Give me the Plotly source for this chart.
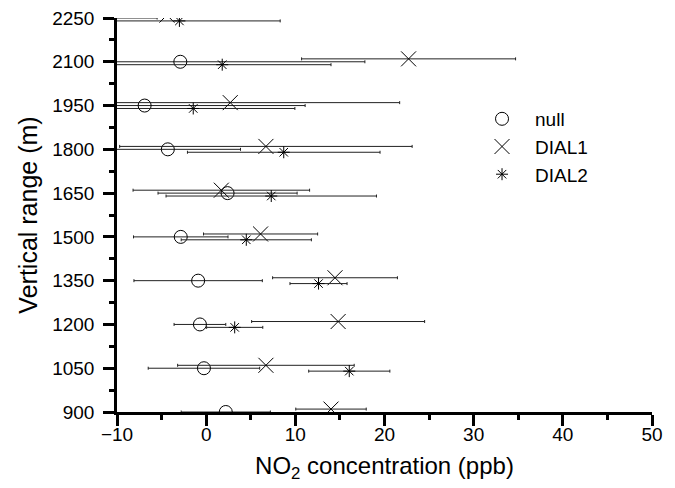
import plotly.graph_objects as go

# Vertical range levels (m)
heights = [900, 1050, 1200, 1350, 1500, 1650, 1800, 1950, 2100, 2250]

# NO2 concentration (ppb) and error (ppb) per series
null_x = [2.2, -0.25, -0.7, -0.9, -2.85, 2.4, -4.3, -6.9, -2.9, -12.0]
null_err = [5.0, 6.25, 2.9, 7.2, 5.3, 7.8, 8.15, 18.0, 20.7, 6.5]
dial1_x = [14.0, 6.7, 14.8, 14.45, 6.1, 1.7, 6.7, 2.7, 22.7, -4.4]
dial1_err = [3.95, 9.9, 9.7, 7.0, 6.4, 9.9, 16.4, 19.0, 12.0, 8.0]
dial2_x = [None, 16.05, 3.2, 12.6, 4.5, 7.3, 8.7, -1.45, 1.8, -3.0]
dial2_err = [None, 4.55, 3.15, 3.2, 7.3, 11.8, 10.8, 11.4, 12.2, 11.3]

# small vertical offsets of the series (m)
dial1_y = [h + 10 for h in heights]
dial2_y = [h - 10 for h in heights]

FONT = "Liberation Sans, Arial, sans-serif"

def err(vals):
    return dict(type="data", array=vals, visible=True, color="#222",
                thickness=1, width=1.5)

fig = go.Figure()
fig.add_trace(go.Scatter(
    x=null_x, y=heights, mode="markers", name="null",
    error_x=err(null_err),
    marker=dict(symbol="circle-open", size=13, color="black",
                line=dict(color="black", width=1))))
fig.add_trace(go.Scatter(
    x=dial1_x, y=dial1_y, mode="markers", name="DIAL1",
    error_x=err(dial1_err),
    marker=dict(symbol="x-thin-open", size=15, color="black",
                line=dict(color="black", width=1))))
fig.add_trace(go.Scatter(
    x=dial2_x, y=dial2_y, mode="markers", name="DIAL2",
    error_x=err(dial2_err),
    marker=dict(symbol="asterisk-open", size=10, color="black",
                line=dict(color="black", width=1))))

fig.update_layout(
    width=675, height=488,
    margin=dict(l=117, r=23, t=18, b=76, autoexpand=False),
    paper_bgcolor="white", plot_bgcolor="white",
    font=dict(family=FONT, size=19, color="black"),
    showlegend=True,
    legend=dict(x=0.658, y=0.792, xanchor="left", yanchor="top",
                font=dict(size=19, family=FONT), itemwidth=56,
                bgcolor="rgba(0,0,0,0)", tracegroupgap=0),
    xaxis=dict(
        range=[-10, 50], tickmode="linear", tick0=-10, dtick=10,
        showgrid=False, zeroline=False, showline=True, linecolor="black",
        linewidth=2.5, ticks="outside", ticklen=11, tickwidth=2.5,
        tickcolor="black", ticklabelstandoff=-8, automargin=False,
        minor=dict(dtick=5, ticklen=5, tickwidth=2.5, tickcolor="black",
                   ticks="outside", showgrid=False),
        tickfont=dict(size=19, family=FONT),
        title=dict(text="NO<sub>2</sub> concentration (ppb)",
                   font=dict(size=24, family=FONT), standoff=14),
    ),
    yaxis=dict(
        range=[900, 2250], tickmode="linear", tick0=900, dtick=150,
        showgrid=False, zeroline=False, showline=True, linecolor="black",
        linewidth=2.5, ticks="outside", ticklen=11, tickwidth=2.5,
        tickcolor="black", ticklabelstandoff=5, automargin=False,
        minor=dict(dtick=75, ticklen=5, tickwidth=2.5, tickcolor="black",
                   ticks="outside", showgrid=False),
        tickfont=dict(size=19, family=FONT),
        title=dict(text="Vertical range (m)",
                   font=dict(size=25, family=FONT), standoff=8),
    ),
)

fig.write_html("out.html")
